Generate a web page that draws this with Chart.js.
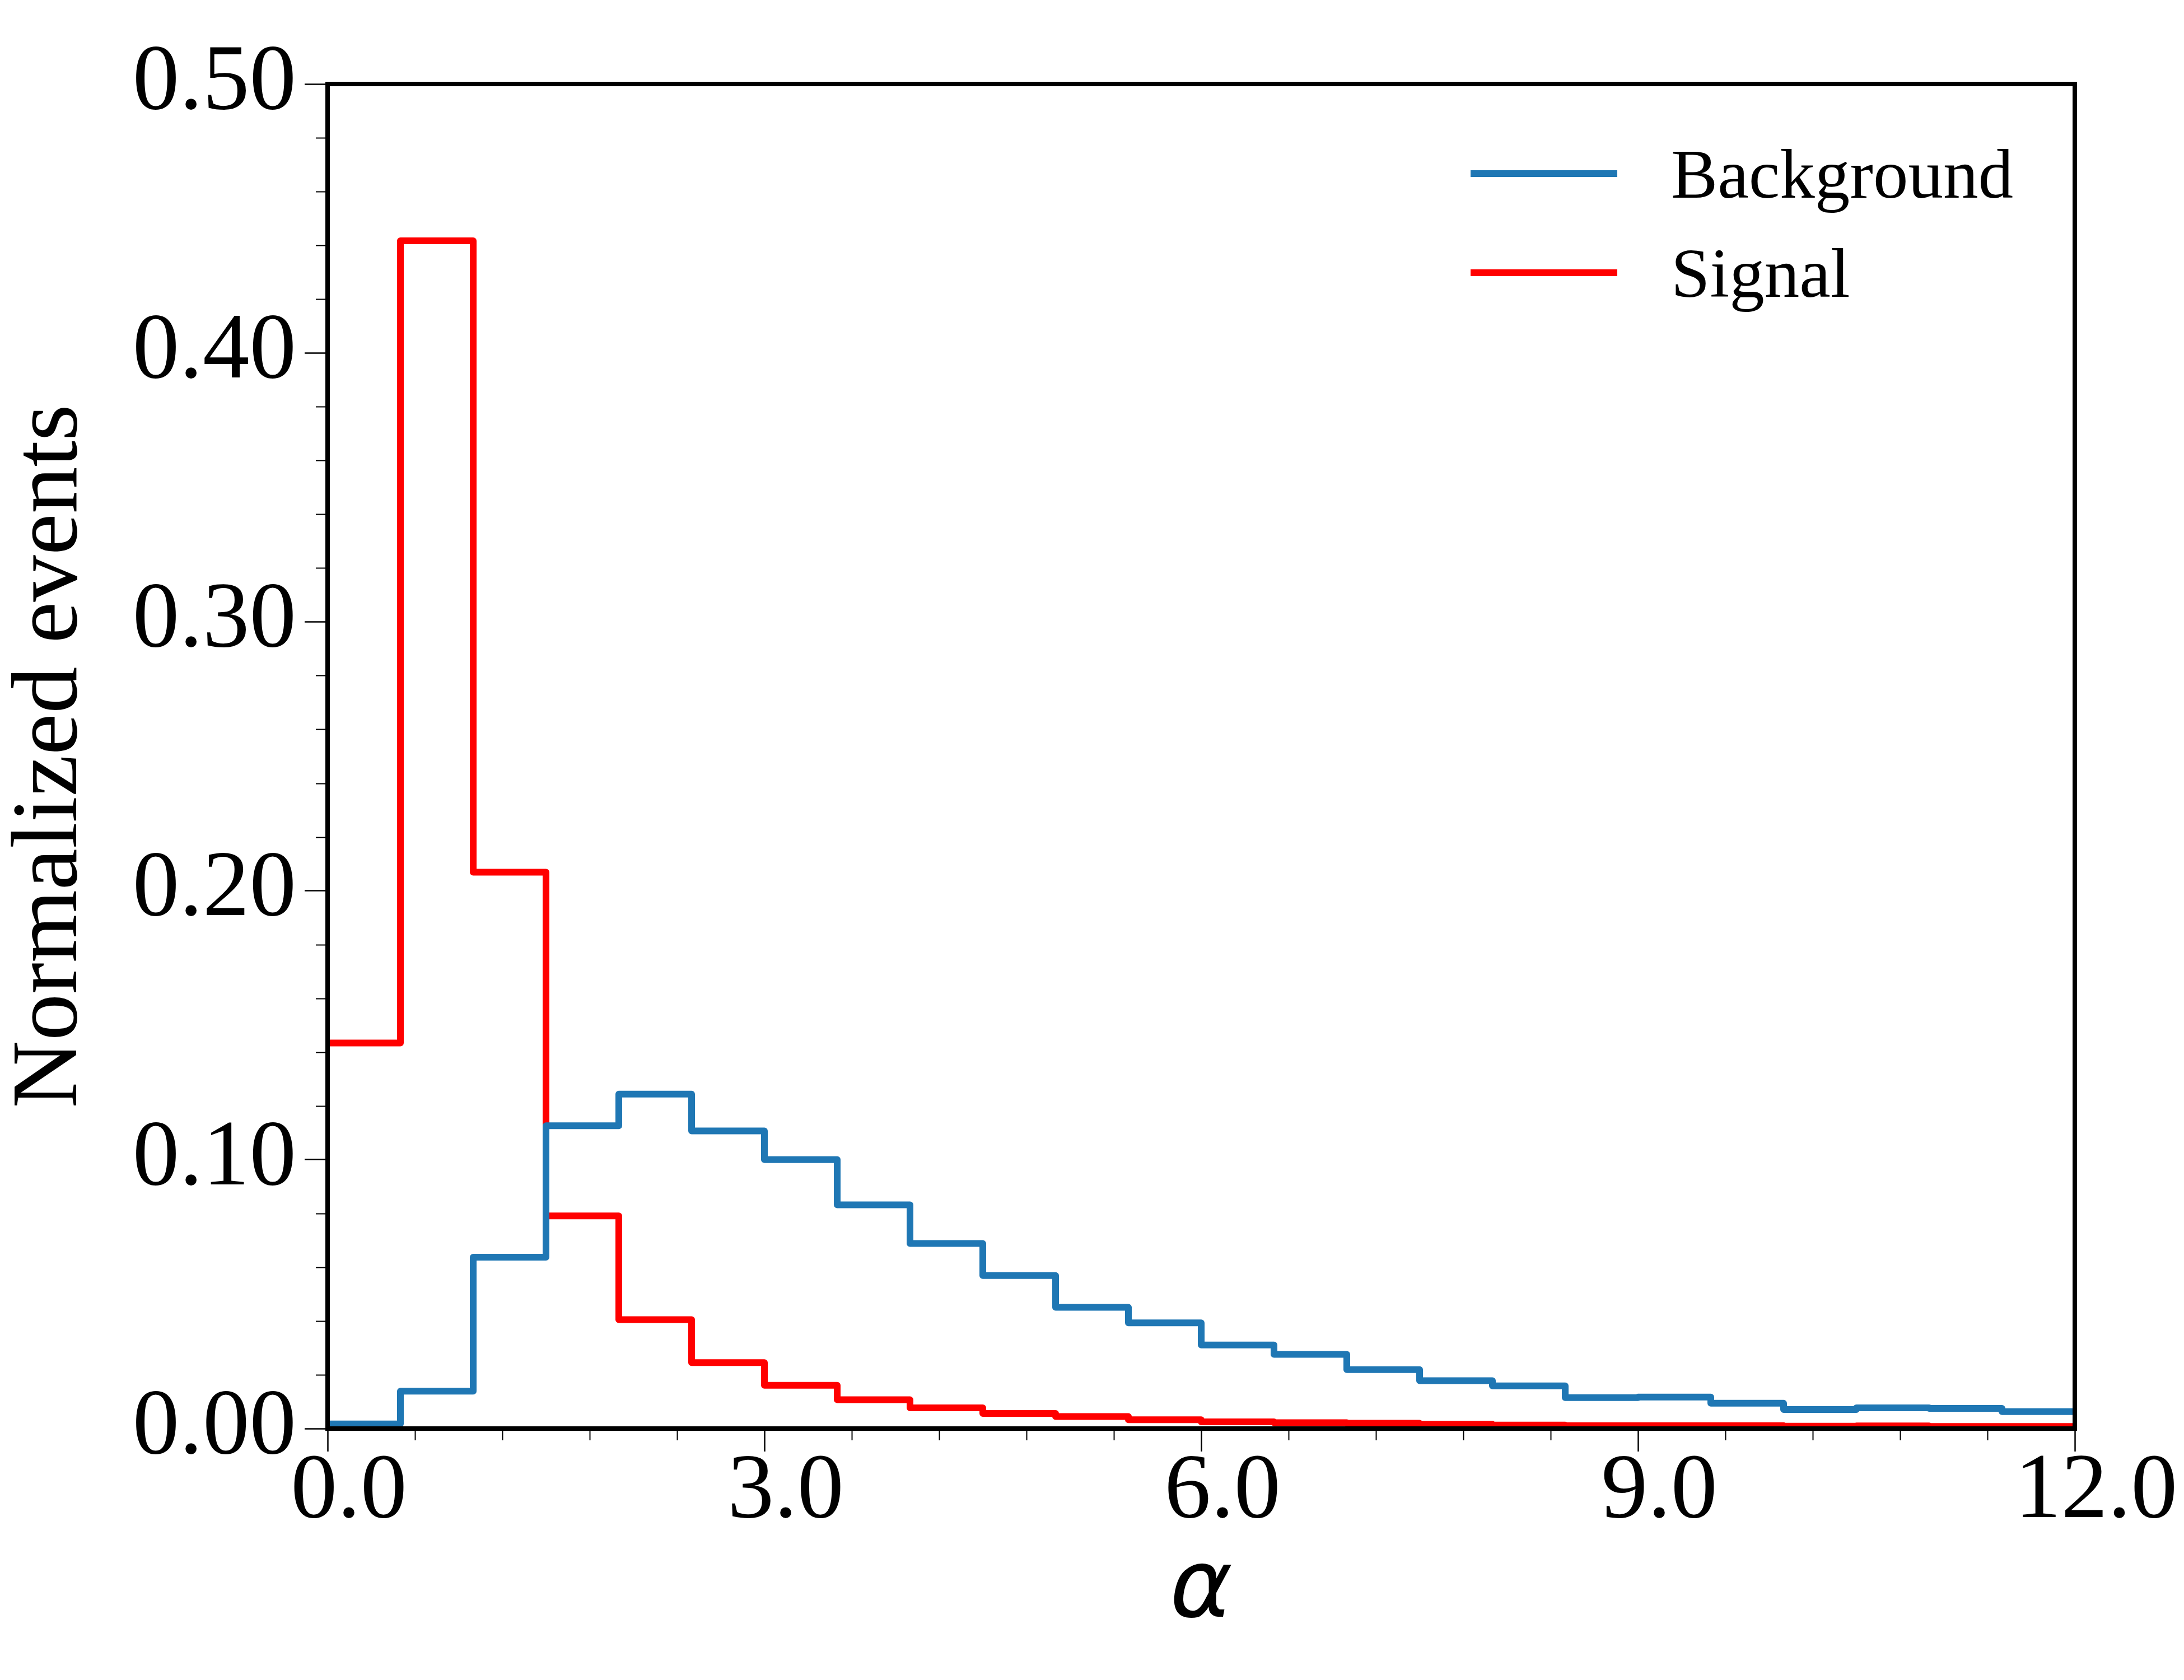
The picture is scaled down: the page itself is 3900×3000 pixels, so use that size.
<!DOCTYPE html>
<html>
<head>
<meta charset="utf-8">
<script src="https://cdn.jsdelivr.net/npm/chart.js@4.4.1/dist/chart.umd.min.js"></script>
<style>
  html, body { margin: 0; padding: 0; background: #ffffff; }
  #wrap { width: 3900px; height: 3000px; }
</style>
</head>
<body>
<div id="wrap"><canvas id="histChart" width="3900" height="3000"></canvas></div>
<script>
// bin edges of alpha (24 bins, width 0.5)
var binEdges = [0.0, 0.5, 1.0, 1.5, 2.0, 2.5, 3.0, 3.5, 4.0, 4.5, 5.0, 5.5,
                6.0, 6.5, 7.0, 7.5, 8.0, 8.5, 9.0, 9.5, 10.0, 10.5, 11.0, 11.5, 12.0];

// normalized events per bin
var backgroundValues = [0.0017, 0.0139, 0.0637, 0.1126, 0.1244, 0.1107, 0.1000, 0.0832,
                        0.0688, 0.0569, 0.0451, 0.0393, 0.0311, 0.0276, 0.0219, 0.0178,
                        0.0159, 0.0115, 0.0117, 0.0094, 0.0071, 0.0077, 0.0075, 0.0063];
var signalValues = [0.1434, 0.4417, 0.2069, 0.0791, 0.0405, 0.0245, 0.0161, 0.0107,
                    0.0077, 0.0056, 0.0045, 0.0033, 0.0025, 0.0022, 0.0020, 0.0016,
                    0.0013, 0.0011, 0.0011, 0.0011, 0.0009, 0.0010, 0.0008, 0.0008];

var xTicks = [0, 3, 6, 9, 12];
var xTickLabels = ['0.0', '3.0', '6.0', '9.0', '12.0'];
var yTicks = [0, 0.1, 0.2, 0.3, 0.4, 0.5];
var yTickLabels = ['0.00', '0.10', '0.20', '0.30', '0.40', '0.50'];

var blue = '#1f77b4';
var red = '#ff0000';
var serif = '"Liberation Serif", "Times New Roman", serif';

// histogram outline: each bin value sits on its left edge, the last edge closes the step
function stepPoints(values) {
    return binEdges.map(function (edge, i) {
        return { x: edge, y: values[Math.min(i, values.length - 1)] };
    });
}

// frame, minor ticks and the legend inside the plot
var decorations = {
    id: 'decorations',
    afterDatasetsDraw: function (chart) {
        var ctx = chart.ctx, a = chart.chartArea;
        var xs = chart.scales.x, ys = chart.scales.y;
        ctx.save();
        ctx.strokeStyle = '#000';

        // minor ticks
        ctx.lineWidth = 2;
        ctx.beginPath();
        for (var k = 0; k <= 25; k++) {
            if (k % 5 === 0) continue;
            var py = Math.round(ys.getPixelForValue(k * 0.02)) + 0.5;
            ctx.moveTo(a.left, py);
            ctx.lineTo(a.left - 21, py);
        }
        for (var j = 0; j <= 20; j++) {
            if (j % 5 === 0) continue;
            var px = Math.round(xs.getPixelForValue(j * 0.6)) + 0.5;
            ctx.moveTo(px, a.bottom);
            ctx.lineTo(px, a.bottom + 21);
        }
        ctx.stroke();

        // axes box
        ctx.lineWidth = 8;
        ctx.strokeRect(a.left, a.top, a.right - a.left, a.bottom - a.top);

        // legend
        ctx.font = '125px ' + serif;
        ctx.textBaseline = 'middle';
        ctx.textAlign = 'left';
        ctx.fillStyle = '#000';
        chart.data.datasets.forEach(function (ds, i) {
            var y = a.top + 160 + i * 177;
            ctx.strokeStyle = ds.borderColor;
            ctx.lineWidth = 12;
            ctx.beginPath();
            ctx.moveTo(a.right - 1079, y);
            ctx.lineTo(a.right - 817, y);
            ctx.stroke();
            ctx.fillText(ds.label, a.right - 721, y + 10);
        });
        ctx.restore();
    }
};

var ctx = document.getElementById('histChart').getContext('2d');
var histChart = new Chart(ctx, {
    type: 'line',
    data: {
        datasets: [{
            label: 'Background',
            data: stepPoints(backgroundValues),
            borderColor: blue,
            borderWidth: 12,
            stepped: 'before',
            pointRadius: 0,
            borderJoinStyle: 'round',
            fill: false
        }, {
            label: 'Signal',
            data: stepPoints(signalValues),
            borderColor: red,
            borderWidth: 12,
            stepped: 'before',
            pointRadius: 0,
            borderJoinStyle: 'round',
            fill: false
        }]
    },
    options: {
        responsive: false,
        animation: false,
        devicePixelRatio: 1,
        layout: { padding: { left: 0, top: 150, right: 195, bottom: 0 } },
        plugins: {
            legend: { display: false },
            tooltip: { enabled: false }
        },
        scales: {
            x: {
                type: 'linear',
                min: 0,
                max: 12,
                afterBuildTicks: function (scale) {
                    scale.ticks = xTicks.map(function (v) { return { value: v }; });
                },
                afterFit: function (scale) { scale.height = 449; },
                ticks: {
                    autoSkip: false,
                    maxRotation: 0,
                    padding: -10,
                    labelOffset: 38,
                    color: '#000',
                    font: { family: serif, size: 166, lineHeight: 1 },
                    callback: function (v) { return xTickLabels[xTicks.indexOf(v)]; }
                },
                grid: { drawOnChartArea: false, drawTicks: true, tickLength: 41, tickWidth: 2.5, tickColor: '#000' },
                border: { display: false },
                title: {
                    display: true,
                    text: 'α',
                    color: '#000',
                    font: { family: '"DejaVu Sans", sans-serif', style: 'italic', size: 170, lineHeight: 1 },
                    padding: { top: 0, bottom: 72 }
                }
            },
            y: {
                type: 'linear',
                min: 0,
                max: 0.5,
                afterBuildTicks: function (scale) {
                    scale.ticks = yTicks.map(function (v) { return { value: v }; });
                },
                afterFit: function (scale) { scale.width = 585; },
                ticks: {
                    padding: 15,
                    color: '#000',
                    font: { family: serif, size: 167, lineHeight: 1 },
                    callback: function (v) { return yTickLabels[yTicks.indexOf(v)]; }
                },
                grid: { drawOnChartArea: false, drawTicks: true, tickLength: 41, tickWidth: 2.5, tickColor: '#000' },
                border: { display: false },
                title: {
                    display: true,
                    text: 'Normalized events',
                    color: '#000',
                    font: { family: serif, size: 167, lineHeight: 1 },
                    padding: { top: 9, bottom: 0 }
                }
            }
        }
    },
    plugins: [decorations]
});
</script>
</body>
</html>
